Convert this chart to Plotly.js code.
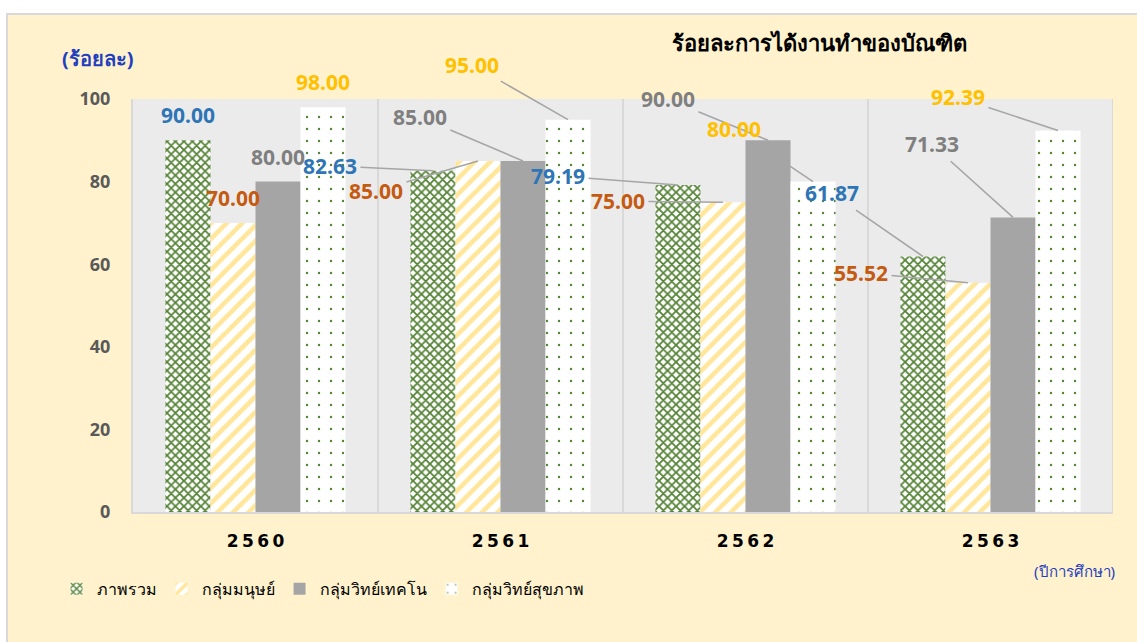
<!DOCTYPE html>
<html>
<head>
<meta charset="utf-8">
<script src="https://cdn.plot.ly/plotly-3.0.1.min.js"></script>
<style>
  html, body { margin: 0; padding: 0; background: #ffffff; }
  #wrap { position: absolute; left: 6px; top: 13px; width: 1131px; height: 629px;
          border-left: 2px solid #D9D9D9; border-top: 2px solid #D9D9D9;
          box-sizing: border-box; background: #FFF2CC; }
  #chart { width: 1129px; height: 627px; }
</style>
</head>
<body>
<div id="wrap"><div id="chart"></div></div>
<script>
// ---- data ----
const years = ["2560", "2561", "2562", "2563"];
const seriesNames = ["ภาพรวม", "กลุ่มมนุษย์", "กลุ่มวิทย์เทคโน", "กลุ่มวิทย์สุขภาพ"];
const overall    = [90.00, 82.63, 79.19, 61.87];
const humanities = [70.00, 85.00, 75.00, 55.52];
const scitech    = [80.00, 85.00, 90.00, 71.33];
const health     = [98.00, 95.00, 80.00, 92.39];
const yTicks = [0, 20, 40, 60, 80, 100];
const chartTitle = "ร้อยละการได้งานทำของบัณฑิต";
const yTitle = "(ร้อยละ)";
const xTitle = "(ปีการศึกษา)";

// ---- styling ----
const labelColors = ["#2E75B6", "#C55A11", "#7F7F7F", "#FFC000"];
const markers = [
  { color: "#ffffff", pattern: { shape: "x", fgcolor: "#548235", bgcolor: "#ffffff", size: 6, solidity: 0.5, fillmode: "replace" } },
  { color: "#ffffff", pattern: { shape: "/", fgcolor: "#FFE699", bgcolor: "#ffffff", size: 11, solidity: 0.42, fillmode: "replace" } },
  { color: "#A5A5A5" },
  { color: "#ffffff", pattern: { shape: ".", fgcolor: "#548235", bgcolor: "#ffffff", size: 12, solidity: 0.03, fillmode: "replace" } }
];
// label placement (pixel offsets from bar top to label centre); null = label just above bar
const labelOffsets = [
  [null, [-103, -5], [-120, -9], [-91, -63]],
  [null, [-102, 30], [-105, -1], [-107, -10]],
  [null, [-103, -44], [-100, -41], [-81, -73]],
  [null, [-96, -55], [-79, -53], [-100, -33]]
];

const allSeries = [overall, humanities, scitech, health];
const bargap = 0.265;
const nSeries = allSeries.length;
const groupW = 1 - bargap;
const barW = groupW / nSeries;

const traces = allSeries.map((vals, i) => ({
  type: "bar",
  name: seriesNames[i],
  x: years,
  y: vals,
  marker: Object.assign({ line: { width: 0 } }, markers[i]),
  hoverinfo: "x+y+name"
}));

const annotations = [];
allSeries.forEach((vals, i) => {
  const offset = -groupW / 2 + (i + 0.5) * barW;
  vals.forEach((v, j) => {
    const o = labelOffsets[i][j];
    const base = {
      xref: "x", yref: "y", x: j + offset, y: v,
      text: v.toFixed(2),
      font: { family: "Noto Sans, Open Sans, sans-serif", size: 21, color: labelColors[i], weight: "bold" }
    };
    if (o) {
      Object.assign(base, { showarrow: true, ax: o[0], ay: o[1], arrowhead: 0, arrowwidth: 1.6,
        arrowcolor: "#A6A6A6", standoff: 0, startstandoff: 2 });
    } else {
      Object.assign(base, { showarrow: false, yshift: 25 });
    }
    annotations.push(base);
  });
});

annotations.push({
  xref: "paper", yref: "paper", x: -0.0357, y: 1.099, xanchor: "center", yanchor: "middle",
  showarrow: false, text: yTitle,
  font: { family: "Noto Sans, sans-serif", size: 20, color: "#1F3FBF", weight: "bold" }
});
annotations.push({
  xref: "paper", yref: "paper", x: 0.961, y: -0.143, xanchor: "center", yanchor: "middle",
  showarrow: false, text: xTitle,
  font: { family: "Noto Sans, sans-serif", size: 15, color: "#1F3FBF" }
});

const shapes = [0.5, 1.5, 2.5, 3.5].map(xv => ({
  type: "line", xref: "x", yref: "paper", x0: xv, x1: xv, y0: 0, y1: 1,
  line: { color: "#D9D9D9", width: 2 }, layer: "below"
}));

const layout = {
  width: 1129, height: 627,
  margin: { l: 125, r: 24, t: 84, b: 130 },
  paper_bgcolor: "rgba(0,0,0,0)",
  plot_bgcolor: "#EBEBEB",
  barmode: "group",
  bargap: bargap,
  bargroupgap: 0,
  title: {
    text: chartTitle, x: 0.719, xanchor: "center", y: 0.955, yanchor: "middle",
    font: { family: "Noto Sans, sans-serif", size: 22, color: "#000000", weight: "bold" }
  },
  xaxis: {
    type: "category",
    tickvals: years,
    ticktext: years.map(c => c.split("").join("\u2009")),
    tickfont: { family: "DejaVu Sans, sans-serif", size: 17, color: "#000000", weight: "bold" },
    showline: true, linecolor: "#D9D9D9", linewidth: 2,
    showgrid: false, ticks: "", ticklabelstandoff: 13,
    range: [-0.5, 3.5], fixedrange: true
  },
  yaxis: {
    range: [0, 100],
    tickvals: yTicks,
    tickfont: { family: "Noto Sans, sans-serif", size: 18, color: "#595959", weight: "bold" },
    showgrid: false, zeroline: false,
    showline: true, linecolor: "#D9D9D9", linewidth: 2,
    ticks: "", ticklabelstandoff: 17, fixedrange: true
  },
  legend: {
    orientation: "h", x: -0.078, xanchor: "left", y: -0.186, yanchor: "middle",
    font: { family: "Noto Sans, sans-serif", size: 16, color: "#000000" },
    bgcolor: "rgba(0,0,0,0)", itemwidth: 30, tracegroupgap: 0
  },
  annotations: annotations,
  shapes: shapes,
  showlegend: true
};

Plotly.newPlot("chart", traces, layout, { displayModeBar: false, staticPlot: true });
</script>
</body>
</html>
